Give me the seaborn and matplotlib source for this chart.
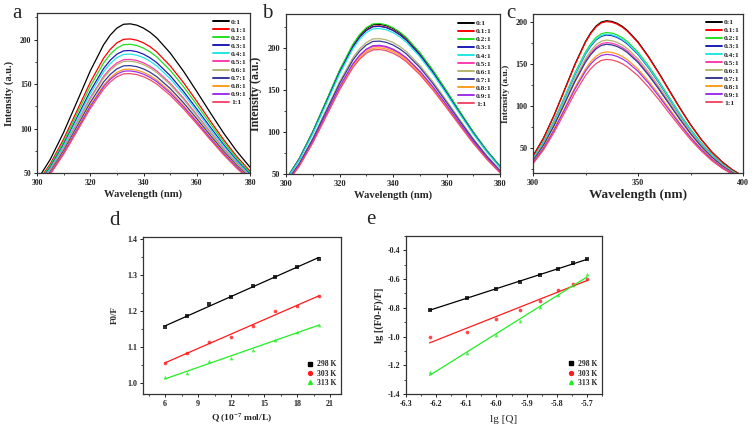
import pandas as pd
import matplotlib
matplotlib.use("Agg")
import matplotlib.pyplot as plt
from matplotlib.lines import Line2D
from matplotlib.ticker import MultipleLocator
import seaborn as sns

# ---- data ----
ratios = ["0:1", "0.1:1", "0.2:1", "0.3:1", "0.4:1", "0.5:1",
          "0.6:1", "0.7:1", "0.8:1", "0.9:1", "1:1"]
ratio_colors = ["#000000", "#ff0000", "#22e022", "#1c1cb8", "#22e6e6", "#ff3cb4",
                "#b4b46e", "#383898", "#ff9d1e", "#a030e8", "#f04d6a"]

wl_ab = [300, 305, 310, 315, 320, 325, 327.5, 330, 332.5, 335, 337.5, 340, 342.5,
         345, 350, 355, 360, 365, 370, 375, 380]
wl_c = [300, 305, 310, 315, 320, 325, 327.5, 330, 332.5, 335, 337.5, 340, 342.5,
        345, 350, 355, 360, 365, 370, 375, 380, 385, 390, 395, 400]

# panel a, one row per ratio
intensity_a = [
    [41.6, 65.4, 95.7, 130.1, 164.8, 194.2, 205.1, 213.0, 217.3, 217.8, 216.3, 213.0, 208.2, 201.9, 185.1, 164.6, 141.7, 118.2, 95.3, 74.6, 56.5],
    [38.4, 60.3, 88.2, 120.0, 152.0, 179.1, 189.1, 196.4, 200.4, 200.8, 199.4, 196.4, 192.0, 186.1, 170.6, 151.8, 130.7, 108.9, 87.8, 68.7, 52.1],
    [37.2, 58.5, 85.6, 116.4, 147.4, 173.7, 183.5, 190.5, 194.4, 194.8, 193.4, 190.5, 186.2, 180.6, 165.6, 147.2, 126.8, 105.7, 85.2, 66.7, 50.5],
    [35.9, 56.4, 82.5, 112.2, 142.1, 167.5, 176.9, 183.7, 187.4, 187.8, 186.5, 183.7, 179.5, 174.1, 159.6, 141.9, 122.2, 101.9, 82.2, 64.3, 48.7],
    [35.1, 55.2, 80.8, 109.8, 139.1, 163.9, 173.1, 179.8, 183.4, 183.8, 182.5, 179.8, 175.7, 170.4, 156.2, 138.9, 119.6, 99.7, 80.4, 62.9, 47.7],
    [34.0, 53.4, 78.1, 106.3, 134.6, 158.6, 167.5, 173.9, 177.5, 177.8, 176.6, 173.9, 170.0, 164.8, 151.1, 134.4, 115.7, 96.5, 77.8, 60.9, 46.1],
    [33.6, 52.8, 77.3, 105.1, 133.1, 156.8, 165.6, 172.0, 175.5, 175.8, 174.6, 172.0, 168.1, 163.0, 149.4, 132.9, 114.4, 95.4, 76.9, 60.2, 45.6],
    [32.7, 51.3, 75.1, 102.1, 129.3, 152.4, 160.9, 167.1, 170.5, 170.8, 169.6, 167.1, 163.3, 158.3, 145.2, 129.1, 111.2, 92.7, 74.7, 58.5, 44.3],
    [31.9, 50.1, 73.3, 99.7, 126.3, 148.8, 157.1, 163.2, 166.5, 166.8, 165.7, 163.2, 159.5, 154.6, 141.8, 126.1, 108.6, 90.5, 73.0, 57.1, 43.3],
    [31.5, 49.5, 72.4, 98.5, 124.7, 147.0, 155.3, 161.2, 164.5, 164.8, 163.7, 161.2, 157.6, 152.8, 140.1, 124.6, 107.3, 89.4, 72.1, 56.4, 42.7],
    [30.9, 48.6, 71.1, 96.7, 122.5, 144.3, 152.4, 158.3, 161.5, 161.8, 160.7, 158.3, 154.7, 150.0, 137.5, 122.3, 105.3, 87.8, 70.8, 55.4, 42.0],
]

# panel b
intensity_b = [
    [43.5, 68.4, 100.1, 136.1, 172.4, 203.1, 214.5, 222.8, 227.3, 227.8, 226.2, 222.8, 217.7, 211.1, 193.6, 172.1, 148.2, 123.6, 99.6, 78.0, 59.1],
    [43.2, 67.8, 99.2, 134.9, 170.9, 201.4, 212.7, 220.8, 225.3, 225.8, 224.2, 220.8, 215.8, 209.3, 191.9, 170.6, 146.9, 122.5, 98.8, 77.3, 58.5],
    [43.7, 68.7, 100.5, 136.7, 173.1, 204.0, 215.5, 223.7, 228.3, 228.8, 227.2, 223.7, 218.7, 212.1, 194.4, 172.9, 148.9, 124.1, 100.1, 78.3, 59.3],
    [43.1, 67.7, 99.0, 134.7, 170.6, 201.0, 212.3, 220.4, 224.9, 225.4, 223.8, 220.4, 215.4, 208.9, 191.5, 170.3, 146.6, 122.3, 98.6, 77.1, 58.4],
    [42.6, 66.9, 97.9, 133.1, 168.6, 198.7, 209.8, 217.9, 222.3, 222.8, 221.2, 217.9, 213.0, 206.5, 189.3, 168.4, 145.0, 120.9, 97.5, 76.3, 57.8],
    [38.6, 60.6, 88.7, 120.6, 152.7, 180.0, 190.1, 197.4, 201.4, 201.8, 200.4, 197.4, 192.9, 187.1, 171.5, 152.5, 131.3, 109.5, 88.3, 69.1, 52.3],
    [40.3, 63.3, 92.6, 126.0, 159.5, 188.0, 198.6, 206.1, 210.4, 210.8, 209.3, 206.1, 201.5, 195.4, 179.1, 159.3, 137.2, 114.4, 92.2, 72.2, 54.6],
    [39.7, 62.4, 91.3, 124.2, 157.2, 185.3, 195.7, 203.2, 207.4, 207.8, 206.3, 203.2, 198.6, 192.6, 176.6, 157.0, 135.2, 112.7, 90.9, 71.1, 53.9],
    [38.2, 60.0, 87.8, 119.4, 151.2, 178.2, 188.2, 195.4, 199.4, 199.8, 198.4, 195.4, 191.0, 185.2, 169.8, 151.0, 130.0, 108.4, 87.4, 68.4, 51.8],
    [38.8, 60.9, 89.1, 121.2, 153.5, 180.9, 191.0, 198.3, 202.4, 202.8, 201.4, 198.3, 193.9, 188.0, 172.3, 153.3, 132.0, 110.0, 88.7, 69.4, 52.6],
    [37.8, 59.4, 86.9, 118.2, 149.7, 176.4, 186.3, 193.4, 197.4, 197.8, 196.4, 193.4, 189.1, 183.3, 168.1, 149.5, 128.7, 107.3, 86.5, 67.7, 51.3],
]

# panel c
intensity_c = [
    [40.2, 61.5, 88.4, 118.8, 149.5, 176.3, 186.7, 194.6, 199.4, 201.0, 200.2, 198.0, 194.4, 189.3, 175.9, 158.4, 138.7, 117.8, 97.1, 77.6, 60.3, 45.4, 33.4, 23.7, 16.3],
    [40.0, 61.2, 88.0, 118.2, 148.8, 175.4, 185.8, 193.6, 198.4, 200.0, 199.2, 197.0, 193.4, 188.4, 175.0, 157.6, 138.0, 117.2, 96.6, 77.2, 60.0, 45.2, 33.2, 23.6, 16.2],
    [37.4, 57.2, 82.3, 110.5, 139.1, 164.0, 173.7, 181.0, 185.5, 187.0, 186.3, 184.2, 180.8, 176.2, 163.6, 147.4, 129.0, 109.6, 90.3, 72.2, 56.1, 42.3, 31.0, 22.1, 15.1],
    [36.8, 56.3, 81.0, 108.7, 136.9, 161.4, 170.9, 178.1, 182.5, 184.0, 183.3, 181.2, 177.9, 173.3, 161.0, 145.0, 127.0, 107.8, 88.9, 71.0, 55.2, 41.6, 30.5, 21.7, 14.9],
    [37.0, 56.6, 81.4, 109.3, 137.6, 162.2, 171.9, 179.1, 183.5, 185.0, 184.3, 182.2, 178.9, 174.3, 161.9, 145.8, 127.7, 108.4, 89.4, 71.4, 55.5, 41.8, 30.7, 21.8, 15.0],
    [35.0, 53.6, 77.0, 103.4, 130.2, 153.5, 162.6, 169.4, 173.6, 175.0, 174.3, 172.4, 169.2, 164.9, 153.1, 137.9, 120.8, 102.6, 84.5, 67.6, 52.5, 39.6, 29.1, 20.7, 14.2],
    [35.6, 54.5, 78.3, 105.2, 132.4, 156.1, 165.4, 172.3, 176.6, 178.0, 177.3, 175.3, 172.1, 167.7, 155.8, 140.3, 122.8, 104.3, 86.0, 68.7, 53.4, 40.2, 29.5, 21.0, 14.4],
    [34.6, 52.9, 76.1, 102.2, 128.7, 151.7, 160.7, 167.5, 171.6, 173.0, 172.3, 170.4, 167.3, 163.0, 151.4, 136.3, 119.4, 101.4, 83.6, 66.8, 51.9, 39.1, 28.7, 20.4, 14.0],
    [32.8, 50.2, 72.2, 96.9, 122.0, 143.8, 152.4, 158.8, 162.7, 164.0, 163.3, 161.5, 158.6, 154.5, 143.5, 129.2, 113.2, 96.1, 79.2, 63.3, 49.2, 37.1, 27.2, 19.4, 13.3],
    [32.2, 49.3, 70.8, 95.2, 119.8, 141.2, 149.6, 155.8, 159.7, 161.0, 160.4, 158.6, 155.7, 151.7, 140.9, 126.9, 111.1, 94.3, 77.8, 62.1, 48.3, 36.4, 26.7, 19.0, 13.0],
    [31.0, 47.4, 68.2, 91.6, 115.3, 135.9, 144.0, 150.0, 153.8, 155.0, 154.4, 152.7, 149.9, 146.0, 135.6, 122.1, 107.0, 90.8, 74.9, 59.8, 46.5, 35.0, 25.7, 18.3, 12.6],
]

# panel d: Stern-Volmer
conc_q = [6, 8, 10, 12, 14, 16, 18, 20]
f0f_298 = [1.155, 1.187, 1.219, 1.238, 1.269, 1.296, 1.324, 1.346]
f0f_303 = [1.055, 1.085, 1.114, 1.128, 1.160, 1.201, 1.213, 1.241]
f0f_313 = [1.016, 1.028, 1.063, 1.069, 1.091, 1.121, 1.142, 1.163]

# panel e: double log
lg_q = [-6.222, -6.097, -6.000, -5.921, -5.854, -5.796, -5.745, -5.699]
lg_298 = [-0.812, -0.733, -0.668, -0.620, -0.571, -0.527, -0.488, -0.460]
lg_303 = [-1.004, -0.965, -0.881, -0.814, -0.754, -0.678, -0.631, -0.597]
lg_313 = [-1.247, -1.117, -0.992, -0.890, -0.793, -0.712, -0.640, -0.567]

temps = ["298 K", "303 K", "313 K"]
temp_colors = ["#000000", "#ff1a1a", "#22ee22"]
temp_markers = ["s", "o", "^"]

# ---- style ----
sns.set_style("ticks")
plt.rcParams["font.family"] = ["Liberation Serif", "DejaVu Serif"]
plt.rcParams["mathtext.fontset"] = "custom"
plt.rcParams["mathtext.rm"] = "Liberation Serif"
plt.rcParams["mathtext.bf"] = "Liberation Serif:bold"
plt.rcParams["axes.unicode_minus"] = False

fig = plt.figure(figsize=(7.56, 4.26), dpi=100)
W, H = 756, 426


def px_axes(x0, y0, x1, y1):
    return fig.add_axes([x0 / W, 1 - y1 / H, (x1 - x0) / W, (y1 - y0) / H])


def style_axes(ax, tick_size):
    for sp in ax.spines.values():
        sp.set_linewidth(0.9)
        sp.set_color("#333333")
    ax.tick_params(which="major", direction="out", length=2.5, width=0.7,
                   labelsize=tick_size, pad=1.5, colors="#222222")
    ax.tick_params(which="minor", direction="out", length=1.5, width=0.6)
    for lab in ax.get_xticklabels() + ax.get_yticklabels():
        lab.set_fontweight("bold")


def draw_spectra(ax, wl, rows, xlim, ylim, xmaj, ymaj, tick_size,
                 xl_size, yl_size, leg_xy):
    df = pd.DataFrame({
        "wavelength": [w for r in rows for w in wl],
        "intensity": [v for r in rows for v in r],
        "ratio": [ratios[i] for i, r in enumerate(rows) for _ in wl],
    })
    sns.lineplot(data=df, x="wavelength", y="intensity", hue="ratio",
                 hue_order=ratios, palette=ratio_colors, linewidth=0.9,
                 legend=False, ax=ax)
    ax.set_xlim(*xlim)
    ax.set_ylim(*ylim)
    ax.xaxis.set_major_locator(MultipleLocator(xmaj))
    ax.xaxis.set_minor_locator(MultipleLocator(xmaj / 2))
    ax.yaxis.set_major_locator(MultipleLocator(ymaj))
    ax.yaxis.set_minor_locator(MultipleLocator(ymaj / 2))
    ax.set_xlabel("Wavelength (nm)", fontsize=xl_size, fontweight="bold", labelpad=2)
    ax.set_ylabel("Intensity (a.u.)", fontsize=yl_size, fontweight="bold", labelpad=4)
    style_axes(ax, tick_size)
    handles = [Line2D([], [], color=c, lw=1.4) for c in ratio_colors]
    ax.legend(handles, ratios, loc="upper left", bbox_to_anchor=leg_xy,
              frameon=False, prop={"weight": "bold", "size": 5.4},
              handlelength=2.1, handletextpad=0.3, labelspacing=0.24,
              borderpad=0, borderaxespad=0)


ax_a = px_axes(37, 13, 250, 173)
draw_spectra(ax_a, wl_ab, intensity_a, (300, 380), (50, 230), 20, 50,
             5.6, 7.7, 7.5, (0.826, 0.965))

ax_b = px_axes(286, 14, 500, 174)
draw_spectra(ax_b, wl_ab, intensity_b, (300, 380), (50, 240), 20, 50,
             6.0, 7.7, 8.6, (0.804, 0.962))

ax_c = px_axes(533, 14, 743, 173)
draw_spectra(ax_c, wl_c, intensity_c, (300, 400), (20, 209), 50, 50,
             5.9, 9.5, 6.7, (0.824, 0.968))


def draw_fits(ax, xs, series, tick_size):
    for ys, col, mk in zip(series, temp_colors, temp_markers):
        sns.regplot(x=xs, y=ys, ci=None, marker=mk, color=col, ax=ax,
                    scatter_kws={"s": 7, "linewidths": 0},
                    line_kws={"linewidth": 0.9})
    handles = [Line2D([], [], ls="", marker=m, color=c, markersize=2.8)
               for c, m in zip(temp_colors, temp_markers)]
    ax.legend(handles, temps, loc="lower right", frameon=False,
              prop={"weight": "bold", "size": 5.5}, handlelength=1.0,
              handletextpad=0.4, labelspacing=0.18, borderpad=0,
              bbox_to_anchor=(0.975, 0.045), borderaxespad=0)
    style_axes(ax, tick_size)


ax_d = px_axes(143, 237, 341, 394)
draw_fits(ax_d, conc_q, [f0f_298, f0f_303, f0f_313], 5.8)
ax_d.set_xlim(4, 22)
ax_d.set_ylim(0.97, 1.406)
ax_d.xaxis.set_major_locator(MultipleLocator(3))
ax_d.xaxis.set_minor_locator(MultipleLocator(1.5))
ax_d.yaxis.set_major_locator(MultipleLocator(0.1))
ax_d.yaxis.set_minor_locator(MultipleLocator(0.05))
style_axes(ax_d, 5.8)
ax_d.set_xlabel(r"Q (10$^{\mathbf{-7}}$ mol/L)", fontsize=6.8, fontweight="bold", labelpad=3)
ax_d.set_ylabel("F0/F", fontsize=6.5, fontweight="bold", labelpad=6)

ax_e = px_axes(406, 236, 602, 394)
draw_fits(ax_e, lg_q, [lg_298, lg_303, lg_313], 5.8)
ax_e.set_xlim(-6.3, -5.65)
ax_e.set_ylim(-1.4, -0.3)
ax_e.xaxis.set_major_locator(MultipleLocator(0.1))
ax_e.xaxis.set_minor_locator(MultipleLocator(0.05))
ax_e.yaxis.set_major_locator(MultipleLocator(0.2))
ax_e.yaxis.set_minor_locator(MultipleLocator(0.1))
style_axes(ax_e, 5.8)
ax_e.set_xlabel("lg [Q]", fontsize=8, labelpad=5)
ax_e.set_ylabel("lg [(F0-F)/F]", fontsize=7.6, fontweight="bold", labelpad=3)

# panel letters
for letter, x, y in [("a", 12, 18), ("b", 262, 18), ("c", 506, 18),
                     ("d", 109, 225), ("e", 366, 224)]:
    fig.text(x / W, 1 - y / H, letter, fontsize=15, ha="left", va="baseline")

fig.savefig("out.png", dpi=100)
